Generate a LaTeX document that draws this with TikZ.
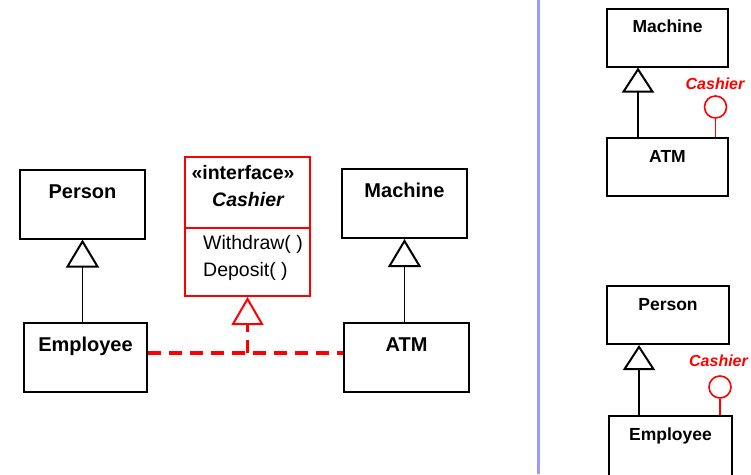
\documentclass[tikz,border=0pt]{standalone}
\usepackage{fontspec}
\setmainfont{Liberation Sans}
\usetikzlibrary{arrows.meta}
\definecolor{ifaceRed}{RGB}{255,0,0}
\definecolor{sepBlue}{RGB}{153,153,255}

\begin{document}
\begin{tikzpicture}[x=1pt,y=-1pt,
    font=\bfseries\fontsize{20}{24}\selectfont,
    cls/.style={draw,line width=2pt,minimum width=125pt,minimum height=69pt,inner sep=0pt},
    clsS/.style={cls,minimum width=121pt,minimum height=58pt},
    clsT/.style={anchor=base,yshift=-29.5pt},
    clsTS/.style={anchor=base,yshift=-25pt,font=\bfseries\fontsize{17.5}{21}\selectfont},
    op/.style={anchor=base west,inner sep=0pt,font=\fontsize{19.5}{23}\selectfont},
    inherit/.style={line width=1.5pt,-{Triangle[open,length=28pt,width=33pt,line width=2pt]}},
    inheritS/.style={line width=1.5pt,-{Triangle[open,length=25pt,width=32pt,line width=2pt]}},
    realize/.style={ifaceRed,line width=3.3pt,dash pattern=on 13pt off 8pt},
    lolli/.style={circle,draw=ifaceRed,line width=1.6pt,minimum size=22pt,inner sep=0pt},
    lolliname/.style={ifaceRed,anchor=base,font=\bfseries\itshape\fontsize{16}{19}\selectfont}]
  \useasboundingbox (0,0) rectangle (751,474);

  % left: interface realized by two classes
  \node[cls,label={[clsT]north:Person}] (person) at (82.5,204) {};
  \node[cls,minimum width=123pt,label={[clsT]north:Employee}] (employee) at (85.5,357.5) {};
  \node[cls,label={[clsT]north:Machine}] (machine) at (404.5,203.5) {};
  \node[cls,label={[clsT]north:ATM}] (atm) at (406.5,357.5) {};

  \node[cls,draw=ifaceRed,minimum height=139pt] (cashier) at (247.5,226.5) {};
  \draw[ifaceRed,line width=1.5pt] ([yshift=-72pt]cashier.north west) -- ([yshift=-72pt]cashier.north east);
  \node[anchor=base,font=\bfseries\fontsize{19.5}{23}\selectfont] (stereo) at (243,179.5) {«interface»};
  \node[anchor=base,font=\bfseries\itshape\fontsize{19.5}{23}\selectfont] (cashierT) at (248,206) {Cashier};
  \node[op] (withdraw) at (203,249) {Withdraw( )};
  \node[op] (deposit) at (203,276) {Deposit( )};

  \draw[inherit] (person.south |- employee.north) -- (person.south);
  \draw[inherit] (machine.south |- atm.north) -- (machine.south);

  \coordinate (meet) at (cashier.south |- 0,353);
  \draw[realize] ([yshift=4.5pt]employee.east) -- ([yshift=4.5pt]atm.west);
  \draw[realize,-{Triangle[open,length=28pt,width=32pt,line width=2pt]}] (meet) -- (cashier.south);

  \draw[sepBlue,line width=3pt] (538,0) -- (538,474);

  % right: lollipop notation
  \node[clsS,label={[clsTS]north:Machine}] (machineB) at (667.5,37.5) {};
  \node[clsS,label={[clsTS]north:ATM}] (atmB) at (667.5,167) {};
  \coordinate (machineBfoot) at ([xshift=32pt]machineB.south west);
  \draw[inheritS] (machineBfoot |- atmB.north) -- (machineBfoot);
  \node[lolli] (ifaceA) at (715.5,107) {};
  \draw[ifaceRed,line width=1.6pt] (ifaceA.south) -- (ifaceA.south |- atmB.north);
  \node[lolliname] (ifaceAT) at (715,89) {Cashier};

  \node[clsS,minimum width=122pt,label={[clsTS]north:Person}] (personB) at (668,315) {};
  \node[clsS,minimum width=123pt,minimum height=70pt,label={[clsTS]north:Employee}] (employeeB) at (670.5,451) {};
  \coordinate (personBfoot) at ([xshift=33pt]personB.south west);
  \draw[inheritS] (personBfoot |- employeeB.north) -- (personBfoot);
  \node[lolli] (ifaceB) at (720,387) {};
  \draw[ifaceRed,line width=1.6pt] (ifaceB.south) -- (ifaceB.south |- employeeB.north);
  \node[lolliname] (ifaceBT) at (718.5,366) {Cashier};
\end{tikzpicture}
\end{document}
